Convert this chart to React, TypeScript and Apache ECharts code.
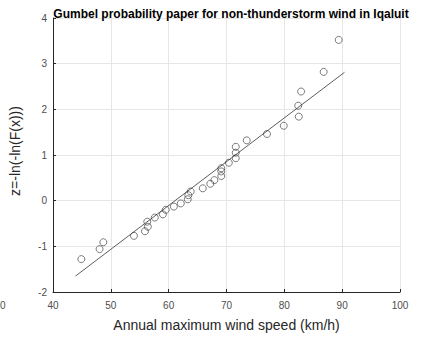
import React, { useEffect, useRef } from "react";
import * as echarts from "echarts";

const title = "Gumbel probability paper for non-thunderstorm wind in Iqaluit";
const xLabel = "Annual maximum wind speed (km/h)";
const yLabel = "z=-ln(-ln(F(x)))";

const windSpeed = [
  44.9, 48.05, 48.7, 54.0, 55.9, 56.4, 56.3, 57.6, 59.0, 59.5, 60.9, 62.1, 63.3,
  63.4, 63.8, 65.9, 67.2, 67.9, 69.1, 69.1, 69.1, 70.4, 71.6, 71.6, 71.6, 73.5,
  77.0, 79.9, 82.5, 82.4, 82.9, 86.8, 89.4,
];
const zValues = [
  -1.28, -1.06, -0.91, -0.77, -0.67, -0.57, -0.46, -0.37, -0.3, -0.2, -0.13,
  -0.06, 0.03, 0.12, 0.2, 0.27, 0.37, 0.45, 0.54, 0.64, 0.71, 0.83, 0.93, 1.05,
  1.18, 1.32, 1.46, 1.64, 1.84, 2.08, 2.39, 2.82, 3.52,
];
const fitX = [43.9, 90.4];
const fitZ = [-1.65, 2.81];

export default function App() {
  const ref = useRef<HTMLDivElement>(null);
  useEffect(() => {
    if (!ref.current) return;
    const chart = echarts.init(ref.current, null, { renderer: "svg" });
    const tickColor = "#4d4d4d";
    const font = "Liberation Sans, Arial, sans-serif";
    chart.setOption({
      animation: false,
      backgroundColor: "#ffffff",
      title: {
        text: title,
        left: 226,
        textAlign: "center",
        top: 3,
        textStyle: { fontFamily: font, fontSize: 12, fontWeight: "bold", color: "#000000" },
      },
      grid: { left: 51.5, right: 21, top: 18, bottom: 45, containLabel: false },
      xAxis: {
        type: "value",
        min: 40,
        max: 100,
        interval: 10,
        name: xLabel,
        nameLocation: "middle",
        nameGap: 26,
        nameTextStyle: { fontFamily: font, fontSize: 14, color: "#262626" },
        axisLine: { show: true, onZero: false, lineStyle: { color: "#262626", width: 1 } },
        axisTick: { show: true, inside: true, length: 3, lineStyle: { color: "#262626" } },
        axisLabel: { fontFamily: font, fontSize: 10, color: tickColor, margin: 8 },
        splitLine: { show: true, lineStyle: { color: "#e6e6e6", width: 1 } },
      },
      yAxis: {
        type: "value",
        min: -2,
        max: 4,
        interval: 1,
        name: yLabel,
        nameLocation: "middle",
        nameGap: 31,
        nameTextStyle: { fontFamily: font, fontSize: 14, color: "#262626", padding: [0, 0, 0, 8] },
        axisLine: { show: true, onZero: false, lineStyle: { color: "#262626", width: 1 } },
        axisTick: { show: true, inside: true, length: 3, lineStyle: { color: "#262626" } },
        axisLabel: { fontFamily: font, fontSize: 10, color: tickColor, margin: 6 },
        splitLine: { show: true, lineStyle: { color: "#e6e6e6", width: 1 } },
      },
      graphic: [
        {
          type: "text",
          left: 0,
          top: 300,
          style: { text: "0", fontFamily: font, fontSize: 10, fill: tickColor },
        },
      ],
      series: [
        {
          type: "scatter",
          data: windSpeed.map((x, i) => [x, zValues[i]]),
          symbol: "circle",
          symbolSize: 7,
          itemStyle: { color: "rgba(0,0,0,0)", borderColor: "#333333", borderWidth: 0.8 },
          z: 3,
        },
        {
          type: "line",
          data: fitX.map((x, i) => [x, fitZ[i]]),
          showSymbol: false,
          lineStyle: { color: "#333333", width: 0.8 },
          z: 2,
        },
      ],
    });
    return () => chart.dispose();
  }, []);
  return (
    <div
      ref={ref}
      style={{ position: "absolute", left: 0, top: 0, width: 421, height: 337 }}
    />
  );
}
